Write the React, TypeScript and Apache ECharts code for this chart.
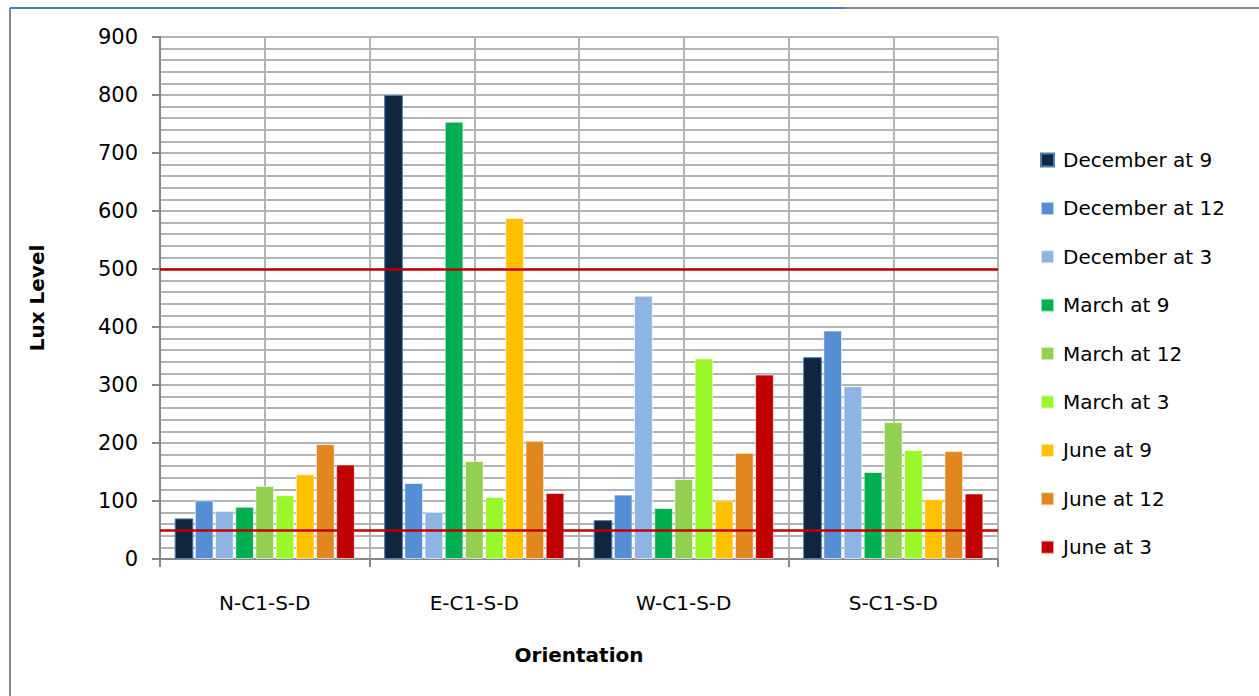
import React, { useEffect, useRef } from "react";
import * as echarts from "echarts";

const categories = ["N-C1-S-D", "E-C1-S-D", "W-C1-S-D", "S-C1-S-D"];
const seriesNames = [
  "December at 9",
  "December at 12",
  "December at 3",
  "March at 9",
  "March at 12",
  "March at 3",
  "June at 9",
  "June at 12",
  "June at 3",
];
const decAt9 = [70, 800, 67, 348];
const decAt12 = [101, 131, 111, 394];
const decAt3 = [83, 81, 454, 298];
const marAt9 = [90, 754, 88, 150];
const marAt12 = [126, 169, 138, 236];
const marAt3 = [110, 107, 346, 188];
const junAt9 = [146, 588, 101, 103];
const junAt12 = [198, 204, 183, 186];
const junAt3 = [163, 114, 318, 113];
const seriesValues = [decAt9, decAt12, decAt3, marAt9, marAt12, marAt3, junAt9, junAt12, junAt3];
const colors = ["#12253f", "#558ed5", "#8eb4e3", "#00b050", "#92d050", "#99f72a", "#ffc000", "#e2861e", "#c00000"];
const thresholds = [500, 50];
const yTicks = { min: 0, max: 900, interval: 100 };

const FONT = "DejaVu Sans";

export default function App() {
  const ref = useRef<HTMLDivElement>(null);
  useEffect(() => {
    document.body.style.margin = "0";
    const chart = echarts.init(ref.current!, null, { renderer: "svg" });
    const grid = { left: 160, top: 37, width: 838, height: 522 };
    const series: any[] = seriesNames.map((name, i) => ({
      name,
      type: "bar",
      data: seriesValues[i],
      barCategoryGap: "14%",
      barGap: "8%",
      itemStyle: {
        color: colors[i],
        borderColor: i === 0 ? "#4a7ebb" : "rgba(255,255,255,0.6)",
        borderWidth: 1,
      },
      ...(i === 0
        ? {
            markLine: {
              silent: true,
              symbol: "none",
              label: { show: false },
              lineStyle: { color: "#c00000", width: 2.5, type: "solid" },
              data: thresholds.map((t) => ({ yAxis: t })),
              z: 10,
            },
          }
        : {}),
    }));
    chart.setOption({
      animation: false,
      textStyle: { fontFamily: FONT },
      grid,
      legend: {
        orient: "vertical",
        left: 1035,
        top: 143,
        itemWidth: 13,
        itemHeight: 13,
        itemGap: 24.4,
        icon: "rect",
        textStyle: { fontSize: 20, color: "#000", fontFamily: FONT, lineHeight: 24, padding: [0, 0, 0, 4] },
        data: seriesNames,
      },
      xAxis: [
        {
          type: "category",
          data: categories,
          axisLine: { lineStyle: { color: "#868686", width: 2 } },
          axisTick: { show: true, length: 8, lineStyle: { color: "#868686", width: 2 } },
          axisLabel: { fontSize: 20, color: "#000", margin: 34, fontFamily: FONT },
          splitLine: { show: false },
          name: "Orientation",
          nameLocation: "middle",
          nameGap: 86,
          nameTextStyle: { fontSize: 20, fontWeight: "bold", color: "#000", fontFamily: FONT },
        },
        {
          type: "value",
          min: 0,
          max: 4,
          interval: 0.5,
          position: "top",
          axisLine: { show: false },
          axisTick: { show: false },
          axisLabel: { show: false },
          splitLine: { show: true, lineStyle: { color: "#b3b3b3", width: 2 } },
        },
      ],
      yAxis: {
        type: "value",
        min: yTicks.min,
        max: yTicks.max,
        interval: yTicks.interval,
        axisLine: { show: true, lineStyle: { color: "#868686", width: 2 } },
        axisTick: { show: true, length: 8, lineStyle: { color: "#868686", width: 2 } },
        axisLabel: { fontSize: 21, color: "#000", margin: 22, fontFamily: FONT },
        splitLine: { show: true, lineStyle: { color: "#b3b3b3", width: 2 } },
        minorTick: { show: false, splitNumber: 5 },
        minorSplitLine: { show: true, lineStyle: { color: "#b3b3b3", width: 2 } },
        name: "Lux Level",
        nameLocation: "middle",
        nameGap: 113,
        nameTextStyle: { fontSize: 20, fontWeight: "bold", color: "#000", fontFamily: FONT },
      },
      graphic: [
        { type: "line", shape: { x1: 10, y1: 8, x2: 10, y2: 696 }, style: { stroke: "#888888", lineWidth: 2 } },
        { type: "line", shape: { x1: 10, y1: 8, x2: 845, y2: 8 }, style: { stroke: "#4a7ebb", lineWidth: 2 } },
        { type: "line", shape: { x1: 845, y1: 8, x2: 1259, y2: 8 }, style: { stroke: "#888888", lineWidth: 2 } },
      ],
      series,
    });
    return () => chart.dispose();
  }, []);
  return <div ref={ref} style={{ width: 1259, height: 696 }} />;
}
